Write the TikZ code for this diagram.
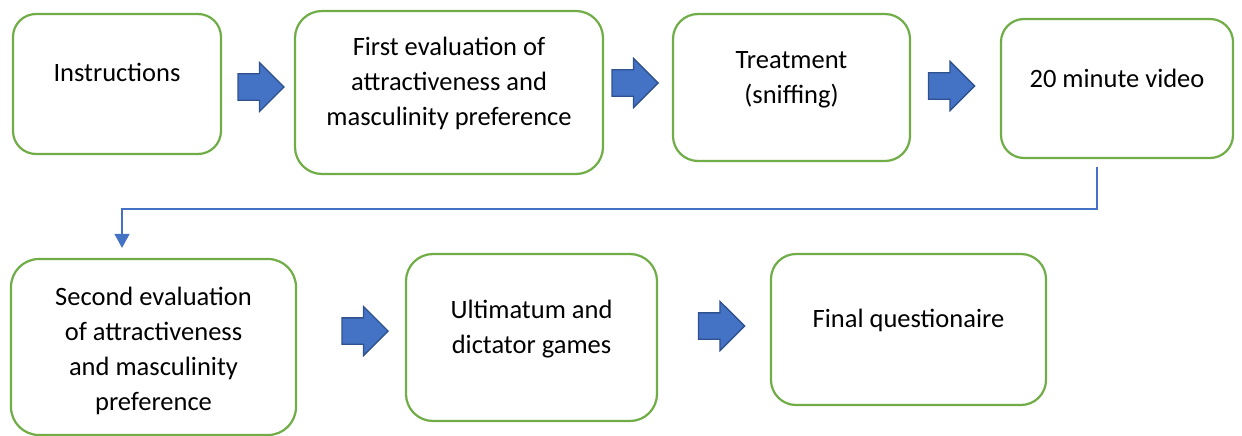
\documentclass[tikz,border=0pt]{standalone}
\usepackage{fontspec}
\setmainfont{Carlito}
\usetikzlibrary{arrows.meta,shapes.arrows}
\definecolor{boxgreen}{HTML}{70AD47}
\definecolor{arrblue}{HTML}{4472C4}
\definecolor{arrdark}{HTML}{2F528F}
\tikzset{
  stepbox/.style={draw=boxgreen, line width=2.2pt, fill=white, inner sep=0pt},
  lbl/.style={align=center, inner sep=0pt, font=\fontsize{26.5}{35}\selectfont},
  blockarrow/.style={single arrow, draw=arrdark, fill=arrblue, line width=1.3pt,
    minimum height=46pt, single arrow head extend=11.5pt, inner xsep=0pt, inner ysep=12.5pt},
  conn/.style={draw=arrblue, line width=1.2pt, -{Triangle[width=15pt,length=14pt]}}
}
\begin{document}
\begin{tikzpicture}[x=1pt,y=-1pt]
\useasboundingbox (0,0) rectangle (1242,436);
% boxes
\node[stepbox, rounded corners=23pt, minimum width=208pt, minimum height=140pt] (b1) at (117,84) {};
\node[stepbox, rounded corners=27pt, minimum width=308pt, minimum height=163pt] (b2) at (449,92.5) {};
\node[stepbox, rounded corners=25pt, minimum width=237pt, minimum height=147pt] (b3) at (791.5,87.5) {};
\node[stepbox, rounded corners=23pt, minimum width=232pt, minimum height=139pt] (b4) at (1117,88.5) {};
\node[stepbox, rounded corners=28pt, minimum width=285pt, minimum height=176pt] (b5) at (153.5,347) {};
\node[stepbox, rounded corners=27pt, minimum width=251pt, minimum height=167pt] (b6) at (531.5,337.5) {};
\node[stepbox, rounded corners=25pt, minimum width=275pt, minimum height=151pt] (b7) at (908.5,329.5) {};
% texts
\node[lbl] (t1) at (117,72.5) {Instructions};
\node[lbl] (t2) at (449,83) {First evaluation of\\attractiveness and\\masculinity preference};
\node[lbl] (t3) at (791.5,79.5) {Treatment\\(sniffing)};
\node[lbl] (t4) at (1117,78) {20 minute video};
\node[lbl] (t5) at (153.5,351) {Second evaluation\\of attractiveness\\and masculinity\\preference};
\node[lbl] (t6) at (531.5,329) {Ultimatum and\\dictator games};
\node[lbl] (t7) at (908.5,320.5) {Final questionaire};
% block arrows
\node[blockarrow] (a1) at (254.5,87) {};
\node[blockarrow] (a2) at (628.5,83) {};
\node[blockarrow] (a3) at (945,86) {};
\node[blockarrow] (a4) at (358.5,331) {};
\node[blockarrow] (a5) at (715,326) {};
% connector
\draw[conn] ([xshift=-20pt,yshift=-8pt]b4.south) |- ([xshift=-31.5pt,yshift=49pt]b5.north) -- ([xshift=-31.5pt,yshift=10pt]b5.north);
\end{tikzpicture}
\end{document}
